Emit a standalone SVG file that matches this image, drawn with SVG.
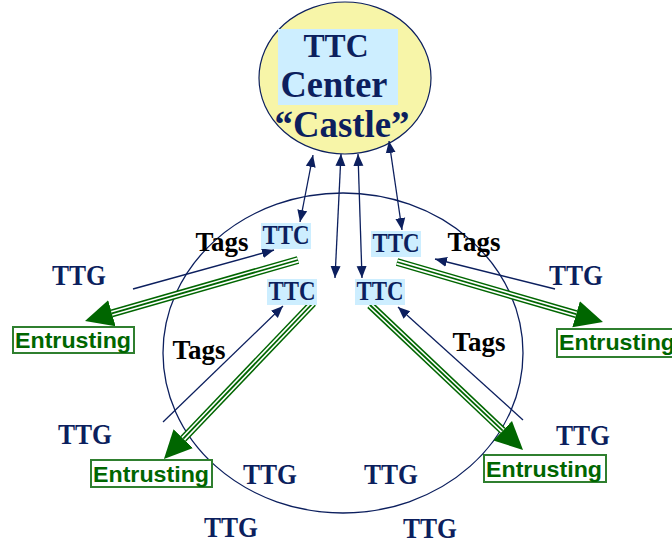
<svg xmlns="http://www.w3.org/2000/svg" width="672" height="544" viewBox="0 0 672 544">
<defs>
<style>
.navy{stroke:#0c1f5e;stroke-width:1.3;fill:none}
.ttc{font-family:"Liberation Serif",serif;font-weight:bold;fill:#0c1f5e;text-anchor:middle}
.ttg{font-family:"Liberation Serif",serif;font-weight:bold;font-size:29px;fill:#0c1f5e;text-anchor:middle}
.tags{font-family:"Liberation Serif",serif;font-weight:bold;font-size:28px;fill:#000;text-anchor:middle}
.ent{font-family:"Liberation Sans",sans-serif;font-weight:bold;font-size:22px;fill:#006600}
.entbox{fill:#fff;stroke:#2f7f2f;stroke-width:2}
.lbl{fill:#cdeeff}
.g1{stroke:#006600;stroke-width:8;fill:none}
.g2{stroke:#fff;stroke-width:5;fill:none}
.g3{stroke:#006600;stroke-width:1.8;fill:none}
</style>
<marker id="gh" markerUnits="userSpaceOnUse" viewBox="0 -15 30 30" markerWidth="30" markerHeight="30" refX="0" refY="0" orient="auto">
<path d="M0,-13.5 L28,0 L0,13.5 z" fill="#006600"/>
</marker>
<marker id="nh" markerUnits="userSpaceOnUse" viewBox="0 -6 12 12" markerWidth="12" markerHeight="12" refX="12" refY="0" orient="auto-start-reverse">
<path d="M0,-5 L12,0 L0,5 z" fill="#0c1f5e"/>
</marker>
</defs>
<rect width="672" height="544" fill="#fff"/>

<g id="circle">
<ellipse cx="343" cy="353" rx="180" ry="160" class="navy"/>
</g>

<g id="castle">
<ellipse cx="345" cy="78" rx="86" ry="76" fill="#f7f5a8" stroke="#0c1f5e" stroke-width="1.2"/>
<rect x="278" y="29" width="120" height="76" class="lbl"/>
<text x="336" y="57" class="ttc" font-size="33" textLength="65" lengthAdjust="spacingAndGlyphs">TTC</text>
<text x="334" y="97" class="ttc" font-size="38" textLength="107" lengthAdjust="spacingAndGlyphs">Center</text>
<text x="342" y="137" class="ttc" font-size="38" textLength="135" lengthAdjust="spacingAndGlyphs">“Castle”</text>
</g>

<g id="connectors">
<line x1="313" y1="155" x2="300" y2="222" class="navy" marker-start="url(#nh)" marker-end="url(#nh)"/>
<line x1="341" y1="154" x2="335" y2="278" class="navy" marker-start="url(#nh)" marker-end="url(#nh)"/>
<line x1="358" y1="154" x2="362" y2="278" class="navy" marker-start="url(#nh)" marker-end="url(#nh)"/>
<line x1="389" y1="141" x2="402" y2="230" class="navy" marker-start="url(#nh)" marker-end="url(#nh)"/>

<line x1="133" y1="289" x2="274" y2="250" class="navy" marker-end="url(#nh)"/>
<line x1="555" y1="289" x2="435" y2="259" class="navy" marker-end="url(#nh)"/>
<line x1="163" y1="422" x2="283" y2="306" class="navy" marker-end="url(#nh)"/>
<line x1="523" y1="420" x2="398" y2="307" class="navy" marker-end="url(#nh)"/>

<g id="green-arrows">
<path d="M298,260 L111.9,313.3" class="g1" marker-end="url(#gh)"/>
<path d="M298,260 L111.9,313.3" class="g2"/>
<path d="M298,260 L111.9,313.3" class="g3"/>
<path d="M397,262 L576.1,314.2" class="g1" marker-end="url(#gh)"/>
<path d="M397,262 L576.1,314.2" class="g2"/>
<path d="M397,262 L576.1,314.2" class="g3"/>
<path d="M313,303 L183.3,438.7" class="g1" marker-end="url(#gh)"/>
<path d="M313,303 L183.3,438.7" class="g2"/>
<path d="M313,303 L183.3,438.7" class="g3"/>
<path d="M370,305 L502.7,430.7" class="g1" marker-end="url(#gh)"/>
<path d="M370,305 L502.7,430.7" class="g2"/>
<path d="M370,305 L502.7,430.7" class="g3"/>
</g>
</g>

<g id="ttc1"><rect x="261" y="223" width="50" height="26" class="lbl"/><text x="286" y="244" class="ttc" font-size="27" textLength="47" lengthAdjust="spacingAndGlyphs">TTC</text></g>
<g id="ttc2"><rect x="371" y="231" width="50" height="26" class="lbl"/><text x="396" y="252" class="ttc" font-size="27" textLength="47" lengthAdjust="spacingAndGlyphs">TTC</text></g>
<g id="ttc3"><rect x="267" y="279" width="50" height="26" class="lbl"/><text x="292" y="300" class="ttc" font-size="27" textLength="47" lengthAdjust="spacingAndGlyphs">TTC</text></g>
<g id="ttc4"><rect x="355" y="279" width="50" height="26" class="lbl"/><text x="380" y="300" class="ttc" font-size="27" textLength="47" lengthAdjust="spacingAndGlyphs">TTC</text></g>

<g id="tags1"><text x="222" y="251" class="tags" textLength="53" lengthAdjust="spacingAndGlyphs">Tags</text></g>
<g id="tags2"><text x="474" y="251" class="tags" textLength="53" lengthAdjust="spacingAndGlyphs">Tags</text></g>
<g id="tags3"><text x="199" y="359" class="tags" textLength="53" lengthAdjust="spacingAndGlyphs">Tags</text></g>
<g id="tags4"><text x="479" y="351" class="tags" textLength="53" lengthAdjust="spacingAndGlyphs">Tags</text></g>

<g id="ttg1"><text x="79" y="285" class="ttg" textLength="54" lengthAdjust="spacingAndGlyphs">TTG</text></g>
<g id="ttg2"><text x="576" y="285" class="ttg" textLength="54" lengthAdjust="spacingAndGlyphs">TTG</text></g>
<g id="ttg3"><text x="85" y="444" class="ttg" textLength="54" lengthAdjust="spacingAndGlyphs">TTG</text></g>
<g id="ttg4"><text x="583" y="445" class="ttg" textLength="54" lengthAdjust="spacingAndGlyphs">TTG</text></g>
<g id="ttg5"><text x="270" y="484" class="ttg" textLength="54" lengthAdjust="spacingAndGlyphs">TTG</text></g>
<g id="ttg6"><text x="391" y="484" class="ttg" textLength="54" lengthAdjust="spacingAndGlyphs">TTG</text></g>
<g id="ttg7"><text x="231" y="537" class="ttg" textLength="54" lengthAdjust="spacingAndGlyphs">TTG</text></g>
<g id="ttg8"><text x="430" y="538" class="ttg" textLength="54" lengthAdjust="spacingAndGlyphs">TTG</text></g>

<g id="ent1"><rect x="13" y="327" width="121" height="26" class="entbox"/><text x="15" y="348" class="ent" textLength="116" lengthAdjust="spacingAndGlyphs">Entrusting</text></g>
<g id="ent2"><rect x="557" y="329" width="125" height="28" class="entbox"/><text x="559" y="350" class="ent" textLength="116" lengthAdjust="spacingAndGlyphs">Entrusting</text></g>
<g id="ent3"><rect x="91" y="460" width="121" height="27" class="entbox"/><text x="93" y="482" class="ent" textLength="116" lengthAdjust="spacingAndGlyphs">Entrusting</text></g>
<g id="ent4"><rect x="484" y="455" width="122" height="27" class="entbox"/><text x="486" y="477" class="ent" textLength="116" lengthAdjust="spacingAndGlyphs">Entrusting</text></g>
</svg>
